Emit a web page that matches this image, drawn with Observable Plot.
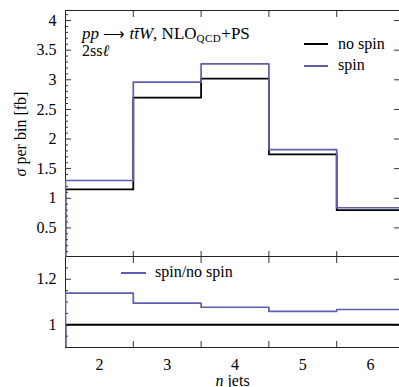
<!DOCTYPE html>
<html><head><meta charset="utf-8">
<script src="https://cdn.jsdelivr.net/npm/d3@7"></script>
<script src="https://cdn.jsdelivr.net/npm/@observablehq/plot@0.6"></script>
<style>
html,body{margin:0;padding:0;background:#fff;overflow:hidden}
#wrap{position:relative;width:399px;height:387px;overflow:hidden;font-family:"Liberation Serif",serif;color:#000;background:#fff}
#wrap svg{position:absolute;left:0;overflow:hidden}
#wrap svg text{font-family:"Liberation Serif",serif !important}
.ov{position:absolute;font-size:16px;line-height:16px;white-space:nowrap}
.sw{position:absolute;height:0;border-top:2px solid}
</style></head><body><div id="wrap"></div>
<script>
// ---- data ----
const bins = [2, 3, 4, 5, 6];
const noSpin = [1.15, 2.70, 3.02, 1.74, 0.80];
const spin = [1.30, 2.96, 3.27, 1.82, 0.84];
const ratioNoSpin = [1, 1, 1, 1, 1];
const ratioSpin = [1.139, 1.095, 1.077, 1.059, 1.067];
const yTicksMain = [0.5, 1, 1.5, 2, 2.5, 3, 3.5, 4];
const yMinorMain = [0.1,0.2,0.3,0.4,0.6,0.7,0.8,0.9,1.1,1.2,1.3,1.4,1.6,1.7,1.8,1.9,2.1,2.2,2.3,2.4,2.6,2.7,2.8,2.9,3.1,3.2,3.3,3.4,3.6,3.7,3.8,3.9,4.1];
const yTicksRatio = [1, 1.2];
const yMinorRatio = [0.95, 1.05, 1.1, 1.15, 1.25];
const xEdges = [2.5, 3.5, 4.5, 5.5];
const colors = {noSpin: "#000000", spin: "#5d5fae"};

function steps(vals, base) {
  const pts = [{x: bins[0] - 0.5, y: base}];
  bins.forEach((b, i) => pts.push({x: b - 0.5, y: vals[i]}));
  pts.push({x: bins[bins.length - 1] + 0.5, y: vals[vals.length - 1]});
  return pts;
}

const W = 399;
const xScale = {domain: [bins[0] - 0.5, bins[bins.length - 1] + 0.5], range: [65, 404]};
const style = {fontFamily: '"Liberation Serif", serif', fontSize: "16px", background: "transparent", color: "#000", overflow: "hidden"};
const tickStroke = "#333";

const mainPlot = Plot.plot({
  width: W, height: 257, marginTop: 10, marginBottom: 0, marginLeft: 65, marginRight: 0,
  style,
  x: xScale,
  y: {domain: [0, 4.17]},
  marks: [
    Plot.frame({insetRight: -8, stroke: "#222"}),
    Plot.axisY(yMinorMain, {anchor: "left", tickSize: 3, dx: 3, fill: "none", stroke: tickStroke}),
    Plot.axisY(yTicksMain, {anchor: "left", tickSize: 6, dx: 6, fill: "none", stroke: tickStroke}),
    Plot.axisY(yTicksMain, {anchor: "right", tickSize: 6, dx: -6, fill: "none", stroke: tickStroke}),
    Plot.axisY(yTicksMain, {anchor: "left", tickSize: 0, tickPadding: 9, tickFormat: d => String(d),
      label: "σ per bin [fb]", labelAnchor: "center", labelOffset: 51, labelArrow: "none"}),
    Plot.axisX(xEdges, {anchor: "top", tickSize: 6, dy: 6, fill: "none", stroke: tickStroke}),
    Plot.axisX(xEdges, {anchor: "bottom", tickSize: 6, dy: -6, fill: "none", stroke: tickStroke}),
    Plot.line(steps(noSpin, 0), {x: "x", y: "y", curve: "step-after", stroke: colors.noSpin, strokeWidth: 1.8, clip: true}),
    Plot.line(steps(spin, 0), {x: "x", y: "y", curve: "step-after", stroke: colors.spin, strokeWidth: 1.7, clip: true})
  ]
});

const ratioPlot = Plot.plot({
  width: W, height: 137, marginTop: 6, marginBottom: 40, marginLeft: 65, marginRight: 0,
  style,
  x: xScale,
  y: {domain: [0.9, 1.3]},
  marks: [
    Plot.frame({insetRight: -8, stroke: "#222"}),
    Plot.axisY(yMinorRatio, {anchor: "left", tickSize: 3, dx: 3, fill: "none", stroke: tickStroke}),
    Plot.axisY(yTicksRatio, {anchor: "left", tickSize: 6, dx: 6, fill: "none", stroke: tickStroke}),
    Plot.axisY(yTicksRatio, {anchor: "right", tickSize: 6, dx: -6, fill: "none", stroke: tickStroke}),
    Plot.axisY(yTicksRatio, {anchor: "left", tickSize: 0, tickPadding: 9, tickFormat: d => String(d), label: null}),
    Plot.axisX(xEdges, {anchor: "top", tickSize: 6, dy: 6, fill: "none", stroke: tickStroke}),
    Plot.axisX(xEdges, {anchor: "bottom", tickSize: 6, dy: -6, fill: "none", stroke: tickStroke}),
    Plot.axisX(bins, {anchor: "bottom", tickSize: 0, tickPadding: 11, tickFormat: d => String(d),
      label: "n jets", labelAnchor: "center", labelOffset: 38, labelArrow: "none"}),
    Plot.line(steps(ratioNoSpin, 0), {x: "x", y: "y", curve: "step-after", stroke: colors.noSpin, strokeWidth: 1.8, clip: true}),
    Plot.line(steps(ratioSpin, 0), {x: "x", y: "y", curve: "step-after", stroke: colors.spin, strokeWidth: 1.7, clip: true})
  ]
});

const wrap = document.getElementById("wrap");
mainPlot.style.top = "0px";
ratioPlot.style.top = "250px";
wrap.appendChild(ratioPlot);
wrap.appendChild(mainPlot);

// italic math symbols in axis labels
function italicize(svg, full, it) {
  d3.select(svg).selectAll("text").each(function () {
    const s = this.textContent.replace(/\s*[→↑←↓]\s*/g, "").trim();
    if (s === full) {
      const t = d3.select(this);
      t.text(null);
      t.append("tspan").attr("font-style", "italic").text(it);
      t.append("tspan").text(full.slice(it.length));
    }
  });
}
italicize(mainPlot, "σ per bin [fb]", "σ");
italicize(ratioPlot, "n jets", "n");

// annotations and legends (HTML overlay)
function add(html, css, cls = "ov") {
  const d = document.createElement("div");
  d.className = cls;
  d.innerHTML = html;
  Object.assign(d.style, css);
  wrap.appendChild(d);
  return d;
}
add('<i>pp</i> <span style="font-size:15px">⟶</span> <i>tt̄W</i>, NLO<sub style="font-size:11px;vertical-align:-3px;letter-spacing:0.5px">QCD</sub>+PS', {left: "82px", top: "26px", fontSize: "17px"});
add('2ss<i>ℓ</i>', {left: "82px", top: "43px"});
add('', {left: "304px", top: "43px", width: "24px", borderColor: colors.noSpin}, "sw");
add('no spin', {left: "338px", top: "36px"});
add('', {left: "304px", top: "65px", width: "24px", borderColor: colors.spin}, "sw");
add('spin', {left: "338px", top: "57px"});
add('', {left: "121px", top: "272px", width: "25px", borderColor: colors.spin}, "sw");
add('spin/no spin', {left: "155px", top: "264px"});
</script></body></html>
